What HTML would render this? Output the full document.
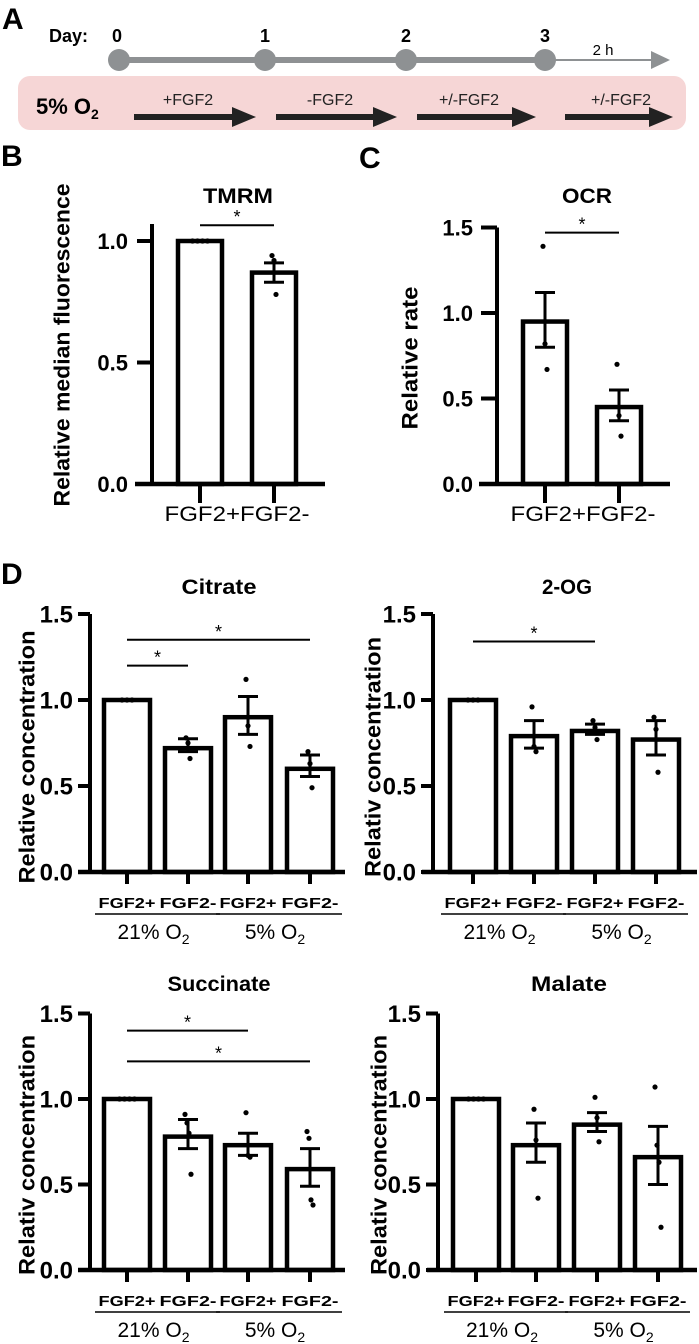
<!DOCTYPE html>
<html><head><meta charset="utf-8">
<style>
html,body{margin:0;padding:0;background:#fff;}
svg{display:block;font-family:"Liberation Sans",Arial,sans-serif;}
</style></head>
<body>
<svg id="fig" width="699" height="1344" viewBox="0 0 699 1344" xmlns="http://www.w3.org/2000/svg">
  <!-- Panel A -->
  <g>
    <text x="2" y="29" font-size="30" font-weight="bold">A</text>
    <text x="49" y="42" font-size="18" font-weight="bold">Day:</text>
    <line x1="545" y1="60" x2="655" y2="60" stroke="#8e9193" stroke-width="2"/>
    <polygon points="651,51 670,60 651,69" fill="#8e9193"/>
    <line x1="119" y1="60" x2="545" y2="60" stroke="#8e9193" stroke-width="6"/>
    <circle cx="119" cy="60" r="11" fill="#8e9193"/>
    <circle cx="265" cy="60" r="11" fill="#8e9193"/>
    <circle cx="406" cy="60" r="11" fill="#8e9193"/>
    <circle cx="545" cy="60" r="11" fill="#8e9193"/>
    <text x="117" y="42" font-size="18" font-weight="bold" text-anchor="middle">0</text>
    <text x="265" y="42" font-size="18" font-weight="bold" text-anchor="middle">1</text>
    <text x="406" y="42" font-size="18" font-weight="bold" text-anchor="middle">2</text>
    <text x="545" y="42" font-size="18" font-weight="bold" text-anchor="middle">3</text>
    <text x="603" y="55" font-size="15" text-anchor="middle">2 h</text>
    <rect x="18" y="76" width="668" height="54" rx="12" fill="#f6d6d6"/>
    <text x="36" y="114" font-size="22" font-weight="bold">5% O<tspan font-size="14" dy="5">2</tspan></text>
    <g fill="#222">
      <text x="188" y="105" font-size="16" text-anchor="middle">+FGF2</text>
      <rect x="134" y="114" width="100" height="6"/><polygon points="232,107 256,117 232,127"/>
      <text x="330" y="105" font-size="16" text-anchor="middle">-FGF2</text>
      <rect x="276" y="114" width="99" height="6"/><polygon points="373,107 397,117 373,127"/>
      <text x="469" y="105" font-size="16" text-anchor="middle">+/-FGF2</text>
      <rect x="417" y="114" width="97" height="6"/><polygon points="512,107 536,117 512,127"/>
      <text x="621" y="105" font-size="16" text-anchor="middle">+/-FGF2</text>
      <rect x="565" y="114" width="86" height="6"/><polygon points="649,107 673,117 649,127"/>
    </g>
  </g>
  <text x="1" y="166" font-size="30" font-weight="bold">B</text>
  <text x="359" y="168" font-size="30" font-weight="bold">C</text>
  <text x="1" y="584" font-size="30" font-weight="bold">D</text>
</svg>
<script>
// ---------- data ----------
const tmrmCategories = ["FGF2+","FGF2-"];
const tmrmMeans = [1.0, 0.87];
const tmrmErrLo = [1.0, 0.83];
const tmrmErrHi = [1.0, 0.91];
const tmrmPoints = [[1,1,1,1],[0.94,0.92,0.78]];
const tmrmSig = [[0,1,1.065]];
const tmrmTicks = [0, 0.5, 1.0];
const tmrmTickLabels = ["0.0","0.5","1.0"];

const ocrCategories = ["FGF2+","FGF2-"];
const ocrMeans = [0.95, 0.45];
const ocrErrLo = [0.80, 0.37];
const ocrErrHi = [1.12, 0.55];
const ocrPoints = [[1.39,0.82,0.67],[0.70,0.40,0.28]];
const ocrSig = [[0,1,1.47]];
const concTicks = [0, 0.5, 1.0, 1.5];
const concTickLabels = ["0.0","0.5","1.0","1.5"];

const groupCategories = ["FGF2+","FGF2-","FGF2+","FGF2-"];
const groupLabels = ["21% O","5% O"];

const citrateMeans = [1.0, 0.72, 0.90, 0.60];
const citrateErrLo = [1.0, 0.70, 0.80, 0.555];
const citrateErrHi = [1.0, 0.775, 1.02, 0.68];
const citratePoints = [[1,1,1],[0.78,0.75,0.66],[1.12,0.85,0.73],[0.70,0.63,0.49]];
const citrateSig = [[0,1,1.20],[0,3,1.35]];

const ogMeans = [1.0, 0.79, 0.82, 0.77];
const ogErrLo = [1.0, 0.72, 0.80, 0.68];
const ogErrHi = [1.0, 0.88, 0.86, 0.88];
const ogPoints = [[1,1,1],[0.96,0.73,0.70],[0.88,0.84,0.77],[0.90,0.83,0.58]];
const ogSig = [[0,2,1.34]];

const succMeans = [1.0, 0.78, 0.73, 0.59];
const succErrLo = [1.0, 0.71, 0.67, 0.49];
const succErrHi = [1.0, 0.88, 0.80, 0.71];
const succPoints = [[1,1,1,1],[0.91,0.86,0.80,0.56],[0.92,0.67,0.66],[0.81,0.77,0.41,0.38]];
const succSig = [[0,2,1.40],[0,3,1.22]];

const malMeans = [1.0, 0.73, 0.85, 0.66];
const malErrLo = [1.0, 0.63, 0.81, 0.50];
const malErrHi = [1.0, 0.86, 0.92, 0.84];
const malPoints = [[1,1,1,1],[0.94,0.76,0.42],[1.01,0.89,0.75],[1.07,0.73,0.63,0.25]];
// ---------- drawing ----------
const NS = "http://www.w3.org/2000/svg";
const svg = document.getElementById("fig");
function mk(tag, attrs, parent){
  const e = document.createElementNS(NS, tag);
  for (const k in attrs) e.setAttribute(k, attrs[k]);
  (parent||svg).appendChild(e);
  return e;
}
function chart(L, name, cats, means, lo, hi, pts, sigs, ticks, tickLabels){
  const g = mk("g", {});
  
  
  const yS = v => L.y0 - v * L.unit;
  const t = mk("text", {x:L.titleX, y:L.titleY, "font-size":L.titleSize, "font-weight":"bold", "text-anchor":"middle", textLength:L.titleLen, lengthAdjust:"spacingAndGlyphs"}, g);
  t.textContent = L.title;
  
  
  const yl = mk("text", {x:0, y:0, transform:`translate(${L.ylX},${L.ylY}) rotate(-90)`, "font-size":L.ylSize, "font-weight":"bold", "text-anchor":"middle", "dominant-baseline":"central", textLength:L.ylLen, lengthAdjust:"spacingAndGlyphs"}, g);
  yl.textContent = L.ylabel;
  
  
  means.forEach((m,i)=>{
    const cx = L.centers[i];
    const r = mk("rect", {x:cx-L.barW/2, y:yS(m), width:L.barW, height:yS(0)-yS(m), fill:"#fff", stroke:"#000", "stroke-width":4.5}, g);
    
    
  });
  const ya = mk("line", {x1:L.axX, y1:yS(L.top), x2:L.axX, y2:yS(0)+2, stroke:"#000", "stroke-width":4}, g);
  
  
  const xa = mk("line", {x1:L.xStart, y1:yS(0), x2:L.xEnd, y2:yS(0), stroke:"#000", "stroke-width":4.5}, g);
  
  
  ticks.forEach((v,i)=>{
    mk("line", {x1:L.axX-L.tickLen, y1:yS(v), x2:L.axX, y2:yS(v), stroke:"#000", "stroke-width":4}, g);
    const tl = mk("text", {x:L.axX-L.labGap, y:yS(v)+L.tickSize*0.36, "font-size":L.tickSize, "font-weight":"bold", "text-anchor":"end"}, g);
    tl.textContent = tickLabels[i];
    
    
  });
  L.centers.forEach(cx=>{
    mk("line", {x1:cx, y1:yS(0), x2:cx, y2:yS(0)+L.xTick, stroke:"#000", "stroke-width":4}, g);
  });
  means.forEach((m,i)=>{
    if (hi[i]-lo[i] < 0.005) return;
    const cx = L.centers[i];
    const eg = mk("g", {stroke:"#000", "stroke-width":3}, g);
    
    
    mk("line", {x1:cx, y1:yS(lo[i]), x2:cx, y2:yS(hi[i])}, eg);
    mk("line", {x1:cx-10, y1:yS(lo[i]), x2:cx+10, y2:yS(lo[i])}, eg);
    mk("line", {x1:cx-10, y1:yS(hi[i]), x2:cx+10, y2:yS(hi[i])}, eg);
  });
  pts.forEach((arr,i)=>{
    const cx = L.centers[i];
    arr.forEach((v,j)=>{
      const off = (j - (arr.length-1)/2) * (Math.abs(v-1)<0.005 ? 5 : 2);
      const c = mk("circle", {cx:cx+off, cy:yS(v), r:2.6, fill:"#000"}, g);
      
      
    });
  });
  sigs.forEach(s=>{
    const x1 = L.centers[s[0]], x2 = L.centers[s[1]], y = yS(s[2]);
    const sl = mk("line", {x1:x1, y1:y, x2:x2, y2:y, stroke:"#000", "stroke-width":2}, g);
    
    
    const st = mk("text", {x:(x1+x2)/2, y:y-2, "font-size":18, "text-anchor":"middle"}, g);
    st.textContent = "*";
    
    
  });
  if (L.grouped){
    cats.forEach((c,i)=>{
      const xl = mk("text", {x:L.centers[i], y:yS(0)+36, "font-size":15, "font-weight":"bold", "text-anchor":"middle", textLength:57, lengthAdjust:"spacingAndGlyphs"}, g);
      xl.textContent = c;
      
      
    });
    groupLabels.forEach((gl,k)=>{
      const a = L.centers[2*k], b = L.centers[2*k+1];
      mk("line", {x1:a-32, y1:yS(0)+42, x2:b+32, y2:yS(0)+42, stroke:"#000", "stroke-width":1.5}, g);
      const gt = mk("text", {x:(a+b)/2-4, y:yS(0)+67, "font-size":21, "text-anchor":"middle"}, g);
      gt.textContent = gl;
      const sub = mk("tspan", {"font-size":14, dy:5}, gt);
      sub.textContent = "2";
      
      
    });
  } else {
    const xl = mk("text", {x:L.xlX, y:yS(0)+37, "font-size":21, "text-anchor":"middle", textLength:L.xlLen, lengthAdjust:"spacingAndGlyphs"}, g);
    xl.textContent = cats.join("");
    
    
  }
}

chart({axX:152, xStart:135, xEnd:325, y0:484, unit:243, top:1.07, centers:[200,274], barW:44,
  tickLen:15, labGap:24, tickSize:22, xTick:19, title:"TMRM", titleX:238, titleY:203, titleSize:21, titleLen:70,
  ylabel:"Relative  median fluorescence", ylX:62, ylY:345, ylSize:22, ylLen:323, xlX:237, xlLen:145},
  "tmrm", tmrmCategories, tmrmMeans, tmrmErrLo, tmrmErrHi, tmrmPoints, tmrmSig, tmrmTicks, tmrmTickLabels);

chart({axX:497, xStart:479, xEnd:670, y0:484, unit:171, top:1.5, centers:[545,619], barW:44,
  tickLen:16, labGap:24, tickSize:22, xTick:19, title:"OCR", titleX:587, titleY:203, titleSize:21, titleLen:50,
  ylabel:"Relative rate", ylX:410, ylY:358, ylSize:22, ylLen:143, xlX:583, xlLen:145},
  "ocr", ocrCategories, ocrMeans, ocrErrLo, ocrErrHi, ocrPoints, ocrSig, concTicks, concTickLabels);

const dCommon = {top:1.5, barW:46, tickLen:12, labGap:17, tickSize:24, xTick:12, titleSize:21, ylSize:22, grouped:true};
chart(Object.assign({}, dCommon, {axX:90, xStart:78, xEnd:345, y0:872, unit:172, centers:[127,188,248,310],
  title:"Citrate", titleX:219, titleY:594, titleLen:75, ylabel:"Relative concentration", ylX:27, ylY:757, ylLen:253}),
  "citrate", groupCategories, citrateMeans, citrateErrLo, citrateErrHi, citratePoints, citrateSig, concTicks, concTickLabels);

chart(Object.assign({}, dCommon, {axX:433, xStart:422, xEnd:697, y0:872, unit:172, centers:[473,534,595,656],
  title:"2-OG", titleX:567, titleY:594, titleLen:50, ylabel:"Relativ concentration", ylX:373, ylY:757, ylLen:240}),
  "two-og", groupCategories, ogMeans, ogErrLo, ogErrHi, ogPoints, ogSig, concTicks, concTickLabels);

chart(Object.assign({}, dCommon, {axX:90, xStart:78, xEnd:345, y0:1270, unit:171, centers:[127,188,248,310],
  title:"Succinate", titleX:219, titleY:991, titleLen:103, ylabel:"Relativ concentration", ylX:27, ylY:1155, ylLen:240}),
  "succinate", groupCategories, succMeans, succErrLo, succErrHi, succPoints, succSig, concTicks, concTickLabels);

chart(Object.assign({}, dCommon, {axX:438, xStart:427, xEnd:697, y0:1270, unit:171, centers:[476,536,597,658],
  title:"Malate", titleX:569, titleY:991, titleLen:76, ylabel:"Relativ concentration", ylX:379, ylY:1155, ylLen:240}),
  "malate", groupCategories, malMeans, malErrLo, malErrHi, malPoints, [], concTicks, concTickLabels);
</script>
</body></html>
